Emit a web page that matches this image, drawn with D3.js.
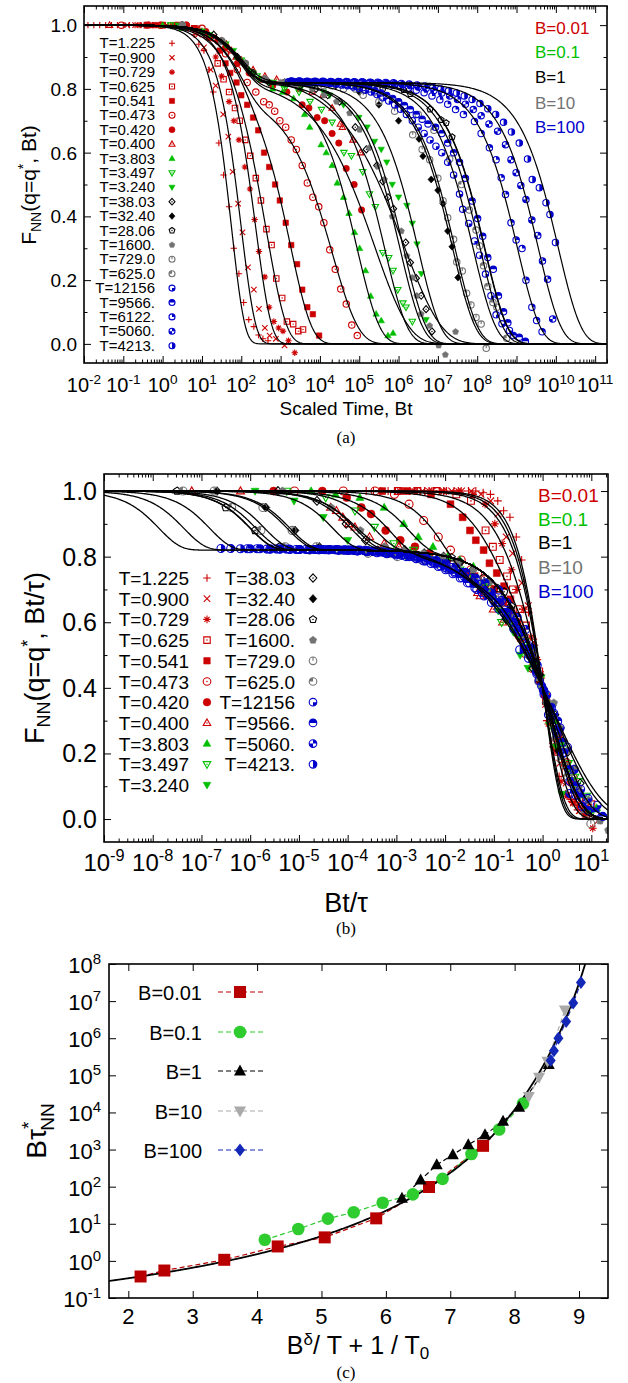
<!DOCTYPE html>
<html>
<head>
<meta charset="utf-8">
<script src="https://cdn.jsdelivr.net/npm/d3@7"></script>
<style>
  body { margin: 0; background: #fff; }
  text { font-family: "Liberation Sans", Arial, Helvetica, sans-serif; fill: #000; }
  .cap { font-family: "Liberation Serif", "DejaVu Serif", serif; }
</style>
</head>
<body>
<svg id="chart" width="628" height="1383"></svg>
<script>
// ---------- panel (a)/(b) data: [log10(Bt), F_NN] ----------
const pts1225 = [[-1.9,1],[-1.75,1],[-1.6,1],[-1.45,1],[-1.3,1],[-1.15,1],[-1.0,1],[-0.85,1],[-0.7,1],[-0.55,1],[-0.4,1],[-0.25,1],[-0.1,1],[0.05,1],[0.2,1],[0.35,1],[0.5,0.995],[0.65,0.99],[0.8,0.97],[0.92,0.94],[1.05,0.92],[1.18,0.86],[1.29,0.79],[1.43,0.63],[1.55,0.53],[1.69,0.43],[1.81,0.30],[1.94,0.22],[2.06,0.13],[2.19,0.076],[2.32,0.054],[2.44,0.028],[2.55,0.016],[2.68,0.01]];
const pts0900 = [[-0.9,1],[-0.7,1],[-0.5,1],[-0.3,1],[-0.1,1],[0.1,1],[0.3,1],[0.5,1],[0.7,0.99],[0.9,0.97],[1.05,0.93],[1.22,0.86],[1.35,0.81],[1.54,0.72],[1.67,0.65],[1.78,0.54],[1.92,0.44],[2.03,0.35],[2.17,0.24],[2.32,0.17],[2.45,0.11],[2.6,0.05],[2.72,0.026],[2.88,0.016],[3.1,-0.005]];
const pts0729 = [[-0.6,1],[-0.3,1],[0,1],[0.3,1],[0.6,1],[0.9,0.99],[1.15,0.96],[1.35,0.9],[1.5,0.84],[1.69,0.76],[1.81,0.70],[1.94,0.64],[2.09,0.555],[2.22,0.486],[2.34,0.39],[2.45,0.29],[2.6,0.21],[2.71,0.115],[2.83,0.07],[2.95,0.05],[3.06,0.04],[3.2,0.01],[3.36,-0.028]];
const pts0625 = [[-0.4,1],[0,1],[0.4,1],[0.8,0.99],[1.1,0.97],[1.4,0.88],[1.55,0.83],[1.69,0.79],[1.84,0.74],[1.96,0.70],[2.1,0.64],[2.23,0.59],[2.37,0.52],[2.5,0.45],[2.64,0.36],[2.77,0.31],[2.89,0.205],[3.04,0.144],[3.16,0.07],[3.32,0.062],[3.45,0.04],[3.57,0.045]];
const pts0541 = [[-0.2,1],[0.3,1],[0.8,0.99],[1.2,0.96],[1.45,0.92],[1.6,0.88],[1.72,0.85],[1.88,0.82],[2.0,0.78],[2.15,0.75],[2.3,0.71],[2.43,0.67],[2.58,0.60],[2.71,0.555],[2.86,0.50],[2.98,0.45],[3.13,0.38],[3.27,0.31],[3.42,0.25],[3.55,0.17],[3.68,0.115],[3.82,0.093],[3.98,0.026]];
const pts0473 = [[-1.05,1],[-0.05,1],[0.6,1],[1.0,0.99],[1.3,0.96],[1.6,0.91],[1.9,0.86],[2.15,0.82],[2.37,0.79],[2.57,0.76],[2.71,0.75],[2.85,0.73],[2.98,0.70],[3.13,0.68],[3.27,0.64],[3.4,0.61],[3.55,0.56],[3.68,0.505],[3.82,0.46],[3.97,0.43],[4.1,0.38],[4.25,0.295],[4.39,0.234],[4.53,0.172],[4.67,0.125],[4.81,0.059],[4.95,0.026]];
const pts0420 = [[-0.4,1],[0.6,1],[1.1,0.98],[1.4,0.95],[1.6,0.93],[1.9,0.88],[2.2,0.85],[2.5,0.83],[2.8,0.81],[3.16,0.79],[3.55,0.75],[3.72,0.74],[3.93,0.71],[4.12,0.70],[4.31,0.66],[4.48,0.63],[4.67,0.55],[4.87,0.50],[5.06,0.42]];
const pts0400 = [[-1.35,1],[-0.35,1],[1.5,0.95],[1.62,0.94],[1.75,0.92],[1.87,0.9],[2.0,0.89],[2.3,0.86],[2.6,0.84],[2.9,0.83],[3.2,0.82],[3.5,0.80],[3.8,0.79],[4.08,0.78],[4.31,0.74],[4.52,0.69],[4.57,0.68],[4.84,0.64],[5.03,0.60]];
const pts3803 = [[0.0,1],[0.5,0.99],[1.0,0.98],[1.5,0.95],[1.9,0.90],[2.2,0.86],[2.5,0.83],[2.8,0.80],[3.05,0.79],[3.33,0.77],[3.61,0.72],[3.74,0.68],[4.03,0.625],[4.16,0.60],[4.31,0.56],[4.44,0.505],[4.6,0.46],[4.74,0.41],[4.88,0.35],[5.01,0.30],[5.16,0.23],[5.29,0.15],[5.43,0.094],[5.56,0.073],[5.73,0.026],[5.86,0.034]];
const pts3497 = [[0.2,1],[1.0,0.98],[1.6,0.94],[2.0,0.89],[2.4,0.84],[2.8,0.82],[3.1,0.80],[3.47,0.79],[3.75,0.76],[4.04,0.735],[4.31,0.695],[4.61,0.60],[4.8,0.59],[5.09,0.54],[5.26,0.47],[5.41,0.43],[5.6,0.286],[5.75,0.27],[5.86,0.23],[5.98,0.17],[6.11,0.128],[6.19,0.115],[6.35,0.07]];
const pts3240 = [[0.4,1],[1.2,0.97],[1.8,0.92],[2.3,0.85],[2.7,0.82],[3.1,0.81],[3.5,0.80],[3.8,0.80],[4.09,0.79],[4.25,0.78],[4.6,0.75],[4.99,0.71],[5.2,0.68],[5.39,0.635],[5.56,0.61],[5.70,0.57],[5.84,0.50],[6.0,0.46],[6.21,0.434],[6.35,0.378],[6.47,0.313],[6.58,0.22],[6.70,0.076]];
const pts3803k = [[0.5,1],[1.3,0.97],[1.9,0.90],[2.3,0.85],[2.7,0.82],[3.1,0.82],[3.5,0.81],[3.9,0.80],[4.2,0.78],[4.5,0.76],[4.9,0.68],[5.18,0.61],[5.45,0.56],[5.6,0.51],[5.73,0.46],[5.87,0.424],[6.18,0.318],[6.3,0.255],[6.45,0.206],[6.575,0.151],[6.70,0.109],[6.85,0.039]];
const pts3240k = [[0.5,1],[1.5,0.95],[2.1,0.88],[2.6,0.83],[3.2,0.82],[3.8,0.82],[4.4,0.81],[5.0,0.79],[5.5,0.75],[6.0,0.70],[6.52,0.643],[6.62,0.589],[6.83,0.516],[7.0,0.482],[7.13,0.44],[7.25,0.354],[7.36,0.305],[7.51,0.208]];
const pts2806 = [[0.5,1],[1.5,0.95],[2.1,0.88],[2.6,0.83],[3.2,0.82],[3.8,0.82],[4.4,0.815],[5.0,0.81],[5.6,0.80],[6.13,0.797],[6.30,0.784],[6.80,0.736],[7.08,0.703],[7.21,0.693],[7.36,0.649]];
const pts1600 = [[0.5,1],[1.5,0.95],[2.1,0.88],[2.6,0.83],[3.0,0.82],[3.4,0.81],[3.8,0.80],[4.1,0.78],[4.42,0.76],[4.755,0.724],[5.01,0.672],[5.25,0.615],[5.47,0.557],[5.64,0.516],[5.84,0.40],[6.07,0.354],[6.21,0.276],[6.35,0.208],[6.465,0.151],[6.575,0.094],[6.79,0.057],[7.02,-0.005],[7.19,-0.034],[7.45,0.038]];
const pts7290 = [[0.5,1],[1.5,0.95],[2.1,0.88],[2.6,0.83],[3.1,0.82],[3.6,0.82],[4.1,0.81],[4.6,0.80],[5.1,0.78],[5.5,0.76],[5.9,0.73],[6.36,0.656],[6.6,0.61],[6.79,0.578],[7.0,0.52],[7.13,0.449],[7.25,0.396],[7.40,0.328],[7.48,0.257],[7.62,0.229],[7.73,0.159],[7.84,0.122],[7.97,0.083],[8.10,0.062],[8.23,-0.014]];
const pts6250 = [[0.5,1],[1.5,0.95],[2.1,0.88],[2.6,0.83],[3.1,0.82],[3.7,0.82],[4.3,0.81],[4.9,0.80],[5.4,0.79],[6.0,0.76],[6.5,0.72],[6.9,0.67],[7.3,0.58],[7.6,0.50],[7.8,0.42],[7.97,0.357],[8.06,0.307],[8.16,0.245],[8.27,0.18],[8.40,0.13],[8.50,0.115],[8.75,0.018]];
const pts12156 = [[3.2,.822],[3.35,.822],[3.5,.821],[3.65,.821],[3.8,.82],[3.95,.82],[4.1,.818],[4.25,.817],[4.4,.815],[4.55,.812],[4.7,.81],[4.85,.806],[5.0,.801],[5.15,.796],[5.3,.79],[5.45,.782],[5.6,.772],[5.75,.762],[5.9,.75],[6.05,.736],[6.2,.72],[6.35,.70],[6.5,.68],[6.65,.66],[6.8,.64],[6.95,.62],[7.1,.6],[7.25,.57],[7.4,.53],[7.55,.47],[7.63,.422],[7.785,.378],[7.93,.323],[8.06,.278],[8.21,.219],[8.35,.151],[8.48,.091],[8.63,.063],[8.82,.042]];
const pts9566 = [[3.3,.822],[3.45,.822],[3.6,.821],[3.75,.821],[3.9,.82],[4.05,.82],[4.2,.819],[4.35,.818],[4.5,.816],[4.65,.814],[4.8,.811],[4.95,.808],[5.1,.804],[5.25,.80],[5.4,.794],[5.55,.787],[5.7,.779],[5.85,.77],[6.0,.76],[6.15,.748],[6.3,.735],[6.45,.72],[6.6,.705],[6.75,.69],[6.94,.68],[7.1,.66],[7.25,.63],[7.4,.60],[7.55,.57],[7.7,.52],[7.87,.448],[8.01,.393],[8.14,.338],[8.27,.271],[8.41,.234],[8.54,.151],[8.67,.101],[8.78,.066],[8.92,.026],[9.07,.021],[9.225,.008]];
const pts6122 = [[3.25,.823],[3.45,.823],[3.65,.822],[3.85,.822],[4.05,.822],[4.25,.821],[4.45,.821],[4.65,.82],[4.85,.82],[5.05,.819],[5.25,.818],[5.45,.816],[5.65,.814],[5.85,.811],[6.05,.807],[6.25,.802],[6.45,.796],[6.65,.788],[6.85,.778],[7.05,.766],[7.25,.752],[7.45,.735],[7.65,.72],[7.93,.698],[8.1,.66],[8.31,.615],[8.48,.578],[8.61,.521],[8.72,.469],[8.86,.38],[8.99,.326],[9.14,.299],[9.24,.2],[9.39,.115],[9.51,.073],[9.65,.038]];
const pts5060 = [[3.3,.824],[3.5,.824],[3.7,.823],[3.9,.823],[4.1,.823],[4.3,.822],[4.5,.822],[4.7,.822],[4.9,.821],[5.1,.821],[5.3,.82],[5.5,.819],[5.7,.818],[5.9,.816],[6.1,.813],[6.3,.81],[6.5,.806],[6.7,.801],[6.9,.795],[7.1,.787],[7.3,.778],[7.5,.767],[7.7,.752],[7.9,.735],[8.1,.716],[8.3,.69],[8.52,.667],[8.72,.625],[8.86,.578],[8.99,.537],[9.11,.497],[9.24,.453],[9.39,.389],[9.54,.34],[9.66,.26],[9.79,.203],[9.92,.078]];
const pts4213 = [[3.27,.825],[3.47,.825],[3.67,.824],[3.87,.824],[4.07,.824],[4.27,.823],[4.47,.823],[4.67,.823],[4.87,.822],[5.07,.822],[5.27,.821],[5.47,.821],[5.67,.82],[5.87,.819],[6.07,.817],[6.27,.815],[6.47,.812],[6.67,.809],[6.87,.805],[7.07,.80],[7.27,.794],[7.47,.787],[7.67,.778],[7.87,.767],[8.07,.754],[8.27,.738],[8.47,.72],[8.67,.695],[8.87,.665],[9.07,.63],[9.28,.58],[9.4,.516],[9.58,.49],[9.75,.443],[9.85,.406],[9.99,.318]];

const temps = ['1.225','0.900','0.729','0.625','0.541','0.473','0.420','0.400','3.803','3.497','3.240','38.03','32.40','28.06','1600.','729.0','625.0','12156','9566.','6122.','5060.','4213.'];
const seriesPts = [pts1225,pts0900,pts0729,pts0625,pts0541,pts0473,pts0420,pts0400,pts3803,pts3497,pts3240,pts3803k,pts3240k,pts2806,pts1600,pts7290,pts6250,pts12156,pts9566,pts6122,pts5060,pts4213];
const seriesB = ['0.01','0.01','0.01','0.01','0.01','0.01','0.01','0.01','0.1','0.1','0.1','1','1','1','10','10','10','100','100','100','100','100'];
const seriesMark = ['plus','cross','star','sqDot','sqFill','cirDot','cirFill','triDot','triFill','triDnDot','triDnFill','diaDot','diaFill','pentDot','pentFill','cirTick','cirQ','bq4','bTop','bq1','bq13','bRight'];

// fit parameters of the black curves (log10 tau at F=0.4, stretching exponent, plateau)
const fitLogTau = [1.72,1.965,2.33,2.57,3.09,4.04,5.12,5.85,4.75,5.45,6.30,5.93,7.18,8.0,5.84,7.24,7.88,7.70,7.99,8.83,9.36,9.87];
const fitBeta   = [1.3,1.2,1.1,0.9,0.8,0.65,0.5,0.45,0.75,0.75,0.75,0.75,0.75,0.75,0.75,0.75,0.75,0.75,0.75,0.75,0.75,0.75];
const fitPlat   = [1,1,1,0.9,0.85,0.78,0.83,0.85,0.82,0.82,0.82,0.82,0.82,0.82,0.82,0.82,0.82,0.82,0.82,0.82,0.82,0.82];
const shortTime = 100;

// legend order of panel (b)
const legendBLeft = [0,1,2,3,4,5,6,7,8,9,10];
const legendBRight = [11,12,13,14,15,16,17,18,20,21];

const bValues = ['0.01','0.1','1','10','100'];
const bColor = {'0.01':'#cc0000','0.1':'#00bf00','1':'#000000','10':'#737373','100':'#0000cc'};

// ---------- panel (c) data ----------
const cX001 = [2.19,2.56,3.49,4.32,5.05,5.85,6.67,7.51];
const cY001 = [0.38,0.55,1.07,2.45,4.3,14,98,1260];
const cX01 = [4.12,4.64,5.10,5.50,5.95,6.42,6.88,7.33,7.76,8.13];
const cY01 = [3.7,7.2,13.8,20.4,37,62,162,760,3470,17400];
const cX1 = [6.25,6.54,6.79,7.04,7.28,7.54,7.82,8.07,8.53];
const cY1 = [49,151,389,724,1350,2510,5750,13800,195000];
const cX10 = [8.22,8.38,8.51,8.78];
const cY10 = [26900,89100,240000,5750000];
const cX100 = [8.56,8.61,8.68,8.80,8.91,9.03];
const cY100 = [251000,457000,1000000,2820000,8910000,31600000];
const cFit = {a: -2.74, b: 20.45, x0: 11};   // log10(B tau) = a + b / (x0 - x)

const svg = d3.select('#chart');

// ---------- helpers ----------
function fitF(t, i) {
  const fp = fitPlat[i], tau = Math.pow(10, fitLogTau[i]), b = fitBeta[i];
  return (1 - fp) * Math.exp(-t / shortTime) + fp * Math.exp(-Math.log(fp / 0.4) * Math.pow(t / tau, b));
}

function drawMark(g, type, cx, cy, r, col) {
  const m = g.append('g').attr('transform', `translate(${cx},${cy})`);
  const sw = 1.1;
  const open = d => m.append('path').attr('d', d).attr('fill', 'none').attr('stroke', col).attr('stroke-width', sw);
  const full = d => m.append('path').attr('d', d).attr('fill', col).attr('stroke', col).attr('stroke-width', 0.6);
  const dot = () => m.append('circle').attr('r', Math.max(0.7, r * 0.2)).attr('fill', col);
  const s = r * 0.85;
  const sq = `M${-s},${-s}h${2 * s}v${2 * s}h${-2 * s}Z`;
  const tri = k => `M0,${-k * r * 1.05}L${r},${k * r * 0.7}L${-r},${k * r * 0.7}Z`;
  const dia = `M0,${-r * 1.1}L${r},0L0,${r * 1.1}L${-r},0Z`;
  const pent = d3.line()(d3.range(5).map(i => {
    const a = -Math.PI / 2 + i * 2 * Math.PI / 5;
    return [r * Math.cos(a), r * Math.sin(a)];
  })) + 'Z';
  const circ = `M${r},0A${r},${r} 0 1,1 ${-r},0A${r},${r} 0 1,1 ${r},0`;
  const arc = (a0, a1) => d3.arc().innerRadius(0).outerRadius(r).startAngle(a0).endAngle(a1)();
  const P = Math.PI;
  switch (type) {
    case 'plus': open(`M${-r},0H${r}M0,${-r}V${r}`); break;
    case 'cross': open(`M${-s},${-s}L${s},${s}M${-s},${s}L${s},${-s}`); break;
    case 'star': open(`M${-r},0H${r}M0,${-r}V${r}M${-s*0.8},${-s*0.8}L${s*0.8},${s*0.8}M${-s*0.8},${s*0.8}L${s*0.8},${-s*0.8}`); break;
    case 'sqDot': open(sq); dot(); break;
    case 'sqFill': full(sq); break;
    case 'cirDot': open(circ); dot(); break;
    case 'cirFill': full(circ); break;
    case 'triDot': open(tri(1)); dot(); break;
    case 'triFill': full(tri(1)); break;
    case 'triDnDot': open(tri(-1)); dot(); break;
    case 'triDnFill': full(tri(-1)); break;
    case 'diaDot': open(dia); dot(); break;
    case 'diaFill': full(dia); break;
    case 'pentDot': open(pent); dot(); break;
    case 'pentFill': full(pent); break;
    case 'cirTick': open(circ); open(`M0,0V${-r}`); break;
    case 'cirQ': m.append('path').attr('d', arc(-P / 2, 0)).attr('fill', col); open(circ); break;
    case 'bq4': m.append('path').attr('d', arc(P / 2, P)).attr('fill', col); open(circ); break;
    case 'bTop': m.append('path').attr('d', arc(-P / 2, P / 2)).attr('fill', col); open(circ); break;
    case 'bq1': m.append('path').attr('d', arc(0, P / 2)).attr('fill', col); open(circ); break;
    case 'bq13': m.append('path').attr('d', arc(0, P / 2)).attr('fill', col);
                 m.append('path').attr('d', arc(P, 1.5 * P)).attr('fill', col); open(circ); break;
    case 'bRight': m.append('path').attr('d', arc(0, P)).attr('fill', col); open(circ); break;
  }
}

function frameTicks(g, box, xs, ys, xMaj, xMin, yMaj, yMin) {
  const sides = [
    [d3.axisBottom, xs, `translate(0,${box.y1})`, xMaj, xMin],
    [d3.axisTop, xs, `translate(0,${box.y0})`, xMaj, xMin],
    [d3.axisLeft, ys, `translate(${box.x0},0)`, yMaj, yMin],
    [d3.axisRight, ys, `translate(${box.x1},0)`, yMaj, yMin]
  ];
  sides.forEach(([ax, sc, tr, maj, mn]) => {
    g.append('g').attr('transform', tr)
      .call(ax(sc).tickValues(maj).tickSize(-7).tickFormat(''))
      .call(s => s.select('.domain').remove());
    if (mn.length) {
      g.append('g').attr('transform', tr)
        .call(ax(sc).tickValues(mn).tickSize(-3.5).tickFormat(''))
        .call(s => s.select('.domain').remove());
    }
  });
  g.selectAll('.tick line').attr('stroke', '#000').attr('stroke-width', 1);
  g.append('rect').attr('x', box.x0).attr('y', box.y0)
    .attr('width', box.x1 - box.x0).attr('height', box.y1 - box.y0)
    .attr('fill', 'none').attr('stroke', '#000').attr('stroke-width', 1.6);
}

function logTicks(lo, hi) {
  const maj = [], mn = [];
  for (let d = Math.floor(Math.log10(lo)); d <= Math.ceil(Math.log10(hi)); d++) {
    for (let k = 1; k < 10; k++) {
      const v = k * Math.pow(10, d);
      if (v < lo * 0.999 || v > hi * 1.001) continue;
      (k === 1 ? maj : mn).push(v);
    }
  }
  return [maj, mn];
}

function powLabel(g, x, y, exp, size) {
  const t = g.append('text').attr('x', x).attr('y', y).attr('text-anchor', 'middle').attr('font-size', size);
  t.append('tspan').text('10');
  t.append('tspan').attr('dy', -size * 0.42).attr('font-size', size * 0.68).text(exp);
}

function clipBox(id, box) {
  svg.append('clipPath').attr('id', id).append('rect')
    .attr('x', box.x0).attr('y', box.y0).attr('width', box.x1 - box.x0).attr('height', box.y1 - box.y0);
}

// ================= panel (a) =================
const boxA = {x0: 84, x1: 607, y0: 6, y1: 363};
const xA = d3.scaleLog().domain([1e-2, 2e11]).range([boxA.x0, boxA.x1]);
const yA = d3.scaleLinear().domain([-0.06, 1.06]).range([boxA.y1, boxA.y0]);
clipBox('clipA', boxA);
const gA = svg.append('g');

const gAm = gA.append('g').attr('clip-path', 'url(#clipA)');
seriesPts.forEach((pts, i) => {
  pts.forEach(([lx, f]) => drawMark(gAm, seriesMark[i], xA(Math.pow(10, lx)), yA(f), 3.2, bColor[seriesB[i]]));
});
const lxGridA = d3.range(-2, 11.32, 0.02);
const lineA = d3.line().x(d => xA(Math.pow(10, d[0]))).y(d => yA(d[1]));
seriesPts.forEach((pts, i) => {
  gAm.append('path').attr('d', lineA(lxGridA.map(lx => [lx, fitF(Math.pow(10, lx), i)])))
    .attr('fill', 'none').attr('stroke', '#000').attr('stroke-width', 1.2);
});

const [aMaj, aMin] = logTicks(1e-2, 2e11);
frameTicks(gA, boxA, xA, yA, aMaj, aMin, [0, 0.2, 0.4, 0.6, 0.8, 1.0], [0.1, 0.3, 0.5, 0.7, 0.9]);
aMaj.forEach(v => powLabel(gA, xA(v), 392, String(Math.round(Math.log10(v))), 20));
[0, 0.2, 0.4, 0.6, 0.8, 1.0].forEach(v => gA.append('text').attr('x', 77).attr('y', yA(v) + 7)
  .attr('text-anchor', 'end').attr('font-size', 19).text(d3.format('.1f')(v)));

// legend (a)
temps.forEach((t, i) => {
  const yy = 43.3 + i * 14.4;
  gA.append('text').attr('x', 155).attr('y', yy + 5).attr('text-anchor', 'end').attr('font-size', 15).text('T=' + t);
  drawMark(gA, seriesMark[i], 172, yy, 3, bColor[seriesB[i]]);
});
const legBA = [28, 52, 77, 103, 127];
bValues.forEach((b, i) => gA.append('text').attr('x', 535).attr('y', legBA[i] + 6).attr('font-size', 17)
  .style('fill', bColor[b]).text('B=' + b));

// labels (a)
{
  const t = gA.append('text').attr('transform', 'translate(36,185) rotate(-90)').attr('text-anchor', 'middle').attr('font-size', 21);
  t.append('tspan').text('F');
  t.append('tspan').attr('font-size', 14).attr('dy', 5).text('NN');
  t.append('tspan').attr('dy', -5).text('(q=q');
  t.append('tspan').attr('font-size', 14).attr('dy', -8).text('*');
  t.append('tspan').attr('dy', 8).text(', Bt)');
}
gA.append('text').attr('x', 346).attr('y', 415).attr('text-anchor', 'middle').attr('font-size', 19).text('Scaled Time, Bt');
svg.append('text').attr('class', 'cap').attr('x', 346).attr('y', 443).attr('text-anchor', 'middle').attr('font-size', 17).text('(a)');

// ================= panel (b) =================
const boxB = {x0: 104, x1: 608, y0: 474, y1: 842};
const xB = d3.scaleLog().domain([1e-9, 22]).range([boxB.x0, boxB.x1]);
const yB = d3.scaleLinear().domain([-0.07, 1.052]).range([boxB.y1, boxB.y0]);
clipBox('clipB', boxB);
const gB = svg.append('g');
const gBm = gB.append('g').attr('clip-path', 'url(#clipB)');
seriesPts.forEach((pts, i) => {
  pts.forEach(([lx, f]) => {
    const u = lx - fitLogTau[i];
    if (u > Math.log10(22) + 0.05) return;
    drawMark(gBm, seriesMark[i], xB(Math.pow(10, u)), yB(f), 4, bColor[seriesB[i]]);
  });
});
const uGridB = d3.range(-9, 1.36, 0.02);
const lineB = d3.line().x(d => xB(Math.pow(10, d[0]))).y(d => yB(d[1]));
seriesPts.forEach((pts, i) => {
  gBm.append('path').attr('d', lineB(uGridB.map(u => [u, fitF(Math.pow(10, u + fitLogTau[i]), i)])))
    .attr('fill', 'none').attr('stroke', '#000').attr('stroke-width', 1.3);
});
const [bMaj, bMin] = logTicks(1e-9, 22);
frameTicks(gB, boxB, xB, yB, bMaj, bMin, [0, 0.2, 0.4, 0.6, 0.8, 1.0], [0.1, 0.3, 0.5, 0.7, 0.9]);
bMaj.forEach(v => powLabel(gB, xB(v), 871, String(Math.round(Math.log10(v))), 24));
[0, 0.2, 0.4, 0.6, 0.8, 1.0].forEach(v => gB.append('text').attr('x', 97).attr('y', yB(v) + 9)
  .attr('text-anchor', 'end').attr('font-size', 25).text(d3.format('.1f')(v)));

// legend (b)
legendBLeft.forEach((idx, k) => {
  const yy = 578 + k * 20.7;
  gB.append('text').attr('x', 189).attr('y', yy + 7).attr('text-anchor', 'end').attr('font-size', 19).text('T=' + temps[idx]);
  drawMark(gB, seriesMark[idx], 207, yy, 3.8, bColor[seriesB[idx]]);
});
legendBRight.forEach((idx, k) => {
  const yy = 578 + k * 20.7;
  gB.append('text').attr('x', 295).attr('y', yy + 7).attr('text-anchor', 'end').attr('font-size', 19).text('T=' + temps[idx]);
  drawMark(gB, seriesMark[idx], 313, yy, 3.8, bColor[seriesB[idx]]);
});
const legBB = [495, 519, 542, 567, 591];
bValues.forEach((b, i) => gB.append('text').attr('x', 538).attr('y', legBB[i] + 7).attr('font-size', 19)
  .style('fill', bColor[b]).text('B=' + b));

{
  const t = gB.append('text').attr('transform', 'translate(44,658) rotate(-90)').attr('text-anchor', 'middle').attr('font-size', 27);
  t.append('tspan').text('F');
  t.append('tspan').attr('font-size', 18).attr('dy', 6).text('NN');
  t.append('tspan').attr('dy', -6).text('(q=q');
  t.append('tspan').attr('font-size', 18).attr('dy', -10).text('*');
  t.append('tspan').attr('dy', 10).text(', Bt/τ)');
}
gB.append('text').attr('x', 346).attr('y', 912).attr('text-anchor', 'middle').attr('font-size', 27).text('Bt/τ');
svg.append('text').attr('class', 'cap').attr('x', 346).attr('y', 934).attr('text-anchor', 'middle').attr('font-size', 17).text('(b)');

// ================= panel (c) =================
const boxC = {x0: 109, x1: 608, y0: 964, y1: 1298};
const xC = d3.scaleLinear().domain([1.7, 9.45]).range([boxC.x0, boxC.x1]);
const yC = d3.scaleLog().domain([0.1, 1e8]).range([boxC.y1, boxC.y0]);
clipBox('clipC', boxC);
const gC = svg.append('g');
const gCm = gC.append('g').attr('clip-path', 'url(#clipC)');

const cSeries = [
  {b: '0.01', xs: cX001, ys: cY001, mark: 'sq', col: '#b80000'},
  {b: '0.1', xs: cX01, ys: cY01, mark: 'circ', col: '#2ecc2e'},
  {b: '1', xs: cX1, ys: cY1, mark: 'tri', col: '#000000'},
  {b: '10', xs: cX10, ys: cY10, mark: 'triDn', col: '#aaaaaa'},
  {b: '100', xs: cX100, ys: cY100, mark: 'dia', col: '#1428b8'}
];

function drawCMark(g, type, cx, cy, col) {
  const m = g.append('g').attr('transform', `translate(${cx},${cy})`);
  let d;
  if (type === 'sq') d = 'M-6,-6h12v12h-12Z';
  if (type === 'circ') d = 'M6.3,0A6.3,6.3 0 1,1 -6.3,0A6.3,6.3 0 1,1 6.3,0';
  if (type === 'tri') d = 'M0,-6.5L6,4.5L-6,4.5Z';
  if (type === 'triDn') d = 'M0,6.5L6,-4.5L-6,-4.5Z';
  if (type === 'dia') d = 'M0,-6.5L5,0L0,6.5L-5,0Z';
  m.append('path').attr('d', d).attr('fill', col);
}

const lineC = d3.line().x(d => xC(d[0])).y(d => yC(d[1]));
cSeries.forEach(s => {
  gCm.append('path').attr('d', lineC(s.xs.map((x, i) => [x, s.ys[i]])))
    .attr('fill', 'none').attr('stroke', s.col).attr('stroke-width', 1.2).attr('stroke-dasharray', '5,3');
});
const fitGridC = d3.range(1.7, 9.2, 0.01);
gCm.append('path').attr('d', lineC(fitGridC.map(x => [x, Math.pow(10, cFit.a + cFit.b / (cFit.x0 - x))])))
  .attr('fill', 'none').attr('stroke', '#000').attr('stroke-width', 1.8);
cSeries.forEach(s => s.xs.forEach((x, i) => drawCMark(gCm, s.mark, xC(x), yC(s.ys[i]), s.col)));

const cYMaj = d3.range(-1, 9).map(e => Math.pow(10, e));
frameTicks(gC, boxC, xC, yC, [2, 3, 4, 5, 6, 7, 8, 9], [], cYMaj, []);
[2, 3, 4, 5, 6, 7, 8, 9].forEach(v => gC.append('text').attr('x', xC(v)).attr('y', 1324)
  .attr('text-anchor', 'middle').attr('font-size', 22).text(v));
cYMaj.forEach(v => {
  const e = Math.round(Math.log10(v));
  const t = gC.append('text').attr('x', 101).attr('y', yC(v) + 9).attr('text-anchor', 'end').attr('font-size', 22);
  t.append('tspan').text('10');
  t.append('tspan').attr('dy', -9).attr('font-size', 15).text(e);
});

// legend (c)
const legCY = [992, 1032, 1071, 1111, 1150];
cSeries.forEach((s, i) => {
  const yy = legCY[i];
  gC.append('text').attr('x', 202).attr('y', yy + 8).attr('text-anchor', 'end').attr('font-size', 20).text('B=' + s.b);
  gC.append('line').attr('x1', 218).attr('x2', 263).attr('y1', yy).attr('y2', yy)
    .attr('stroke', s.col).attr('stroke-width', 1.2).attr('stroke-dasharray', '5,3');
  drawCMark(gC, s.mark, 240, yy, s.col);
});

{
  const t = gC.append('text').attr('transform', 'translate(46,1131) rotate(-90)').attr('text-anchor', 'middle').attr('font-size', 28);
  t.append('tspan').text('Bτ');
  t.append('tspan').attr('font-size', 19).attr('dy', -11).text('*');
  t.append('tspan').attr('font-size', 19).attr('dy', 19).attr('dx', -9).text('NN');
}
{
  const t = gC.append('text').attr('x', 358).attr('y', 1354).attr('text-anchor', 'middle').attr('font-size', 25);
  t.append('tspan').text('B');
  t.append('tspan').attr('font-size', 17).attr('dy', -9).text('δ');
  t.append('tspan').attr('dy', 9).text('/ T + 1 / T');
  t.append('tspan').attr('font-size', 17).attr('dy', 5).text('0');
}
svg.append('text').attr('class', 'cap').attr('x', 346).attr('y', 1378).attr('text-anchor', 'middle').attr('font-size', 17).text('(c)');
</script>
</body>
</html>
